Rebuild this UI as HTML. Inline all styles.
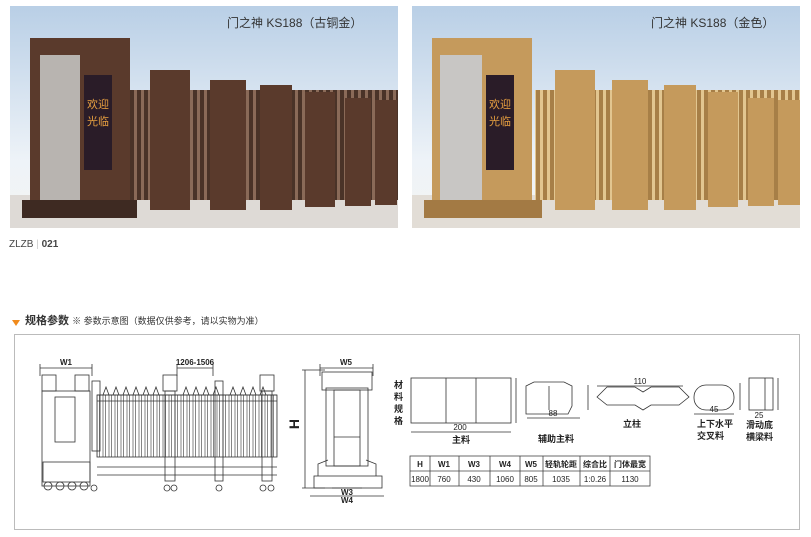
<!DOCTYPE html>
<html><head><meta charset="utf-8"><style>
body{margin:0;width:811px;height:537px;background:#fff;position:relative;overflow:hidden;font-family:"Liberation Sans","Noto Sans CJK SC",sans-serif;}
.a{position:absolute;}
</style></head><body>
<svg class="a" style="left:0;top:0" width="811" height="537" viewBox="0 0 811 537">
<defs>
<linearGradient id="sky" x1="0" y1="0" x2="0" y2="1"><stop offset="0" stop-color="#b9cfe6"/><stop offset="0.7" stop-color="#eef3f8"/><stop offset="1" stop-color="#f4f4f2"/></linearGradient>
<pattern id="bars" width="7" height="10" patternUnits="userSpaceOnUse"><rect width="7" height="10" fill="#4a3328"/><rect x="1" width="3" height="10" fill="#8a6a58"/></pattern>
<pattern id="barsg" width="7" height="10" patternUnits="userSpaceOnUse"><rect width="7" height="10" fill="#a77f47"/><rect x="1" width="3" height="10" fill="#e2c690"/></pattern>
<pattern id="lb" width="6" height="10" patternUnits="userSpaceOnUse"><line x1="1" y1="0" x2="1" y2="10" stroke="#333" stroke-width="0.6"/><line x1="3.5" y1="0" x2="3.5" y2="10" stroke="#333" stroke-width="0.6"/></pattern>
</defs>
<!-- left photo -->
<rect x="10" y="6" width="388" height="222" fill="url(#sky)"/>
<rect x="10" y="195" width="388" height="33" fill="#dedad6"/>
<rect x="130" y="90" width="268" height="110" fill="url(#bars)"/>
<g fill="#5a3a2c">
<rect x="150" y="70" width="40" height="140"/><rect x="210" y="80" width="36" height="130"/><rect x="260" y="85" width="32" height="125"/><rect x="305" y="92" width="30" height="115"/><rect x="345" y="98" width="26" height="108"/><rect x="375" y="100" width="22" height="105"/>
<rect x="30" y="38" width="100" height="180"/>
</g>
<rect x="40" y="55" width="40" height="150" fill="#b8b4b0"/>
<rect x="84" y="75" width="28" height="95" fill="#2a1c28"/>
<text x="87" y="108" font-size="11" fill="#e8a040">欢迎</text><text x="87" y="125" font-size="11" fill="#e8a040">光临</text>
<rect x="22" y="200" width="115" height="18" fill="#3e2a22"/>
<!-- right photo -->
<rect x="412" y="6" width="388" height="222" fill="url(#sky)"/>
<rect x="412" y="195" width="388" height="33" fill="#e2ddd6"/>
<rect x="535" y="90" width="265" height="110" fill="url(#barsg)"/>
<g fill="#c59a5c">
<rect x="555" y="70" width="40" height="140"/><rect x="612" y="80" width="36" height="130"/><rect x="664" y="85" width="32" height="125"/><rect x="708" y="92" width="30" height="115"/><rect x="748" y="98" width="26" height="108"/><rect x="778" y="100" width="22" height="105"/>
<rect x="432" y="38" width="100" height="180"/>
</g>
<rect x="440" y="55" width="42" height="150" fill="#c8c6c4"/>
<rect x="486" y="75" width="28" height="95" fill="#2a1c28"/>
<text x="489" y="108" font-size="11" fill="#e8a040">欢迎</text><text x="489" y="125" font-size="11" fill="#e8a040">光临</text>
<rect x="424" y="200" width="118" height="18" fill="#a37a44"/>
<!-- spec box -->
<rect x="14.5" y="334.5" width="785" height="195" fill="none" stroke="#bbb"/>
<polygon points="12,320 20,320 16,326" fill="#f08a1c"/>
<!-- gate drawing -->
<g stroke="#333" stroke-width="0.8" fill="none">
<line x1="40" y1="368" x2="92" y2="368"/><line x1="40" y1="364" x2="40" y2="376"/><line x1="92" y1="364" x2="92" y2="376"/>
<line x1="177" y1="368" x2="213" y2="368"/><line x1="177" y1="364" x2="177" y2="376"/><line x1="213" y1="364" x2="213" y2="376"/>
<rect x="42" y="375" width="14" height="16"/><rect x="75" y="375" width="14" height="16"/>
<rect x="42" y="391" width="48" height="95"/><rect x="55" y="397" width="20" height="45"/>
<rect x="43" y="462" width="47" height="20"/>
<circle cx="48" cy="486" r="4"/><circle cx="60" cy="486" r="4"/><circle cx="72" cy="486" r="4"/><circle cx="84" cy="486" r="4"/>
<rect x="92" y="381" width="8" height="70"/>
<rect x="97" y="395" width="180" height="62" fill="url(#lb)"/>
<line x1="97" y1="395" x2="277" y2="395"/><line x1="97" y1="401" x2="277" y2="401"/><line x1="97" y1="467" x2="277" y2="467"/><line x1="97" y1="475" x2="277" y2="475"/>
<path d="M103 395 l3-8 3 8 M113 395 l3-8 3 8 M123 395 l3-8 3 8 M133 395 l3-8 3 8 M143 395 l3-8 3 8 M153 395 l3-8 3 8 M183 395 l3-8 3 8 M193 395 l3-8 3 8 M203 395 l3-8 3 8 M213 395 l3-8 3 8 M230 395 l3-8 3 8 M240 395 l3-8 3 8 M250 395 l3-8 3 8 M260 395 l3-8 3 8"/>
<rect x="163" y="375" width="14" height="16"/><rect x="165" y="391" width="10" height="90"/>
<rect x="215" y="381" width="8" height="100"/>
<rect x="260" y="375" width="14" height="16"/><rect x="262" y="391" width="10" height="90"/>
<circle cx="167" cy="488" r="3"/><circle cx="174" cy="488" r="3"/><circle cx="263" cy="488" r="3"/><circle cx="271" cy="488" r="3"/><circle cx="94" cy="488" r="3"/><circle cx="219" cy="488" r="3"/>
<!-- side view -->
<line x1="302" y1="370" x2="325" y2="370"/><line x1="305" y1="370" x2="305" y2="488"/><line x1="302" y1="488" x2="325" y2="488"/>
<line x1="320" y1="368" x2="373" y2="368"/><line x1="320" y1="364" x2="320" y2="376"/><line x1="373" y1="364" x2="373" y2="376"/>
<rect x="322" y="372" width="50" height="18"/>
<rect x="326" y="388" width="42" height="78"/><rect x="334" y="390" width="26" height="76"/>
<line x1="334" y1="437" x2="360" y2="437"/>
<rect x="314" y="476" width="68" height="12"/><path d="M318 476 l0-12 10-4 M376 476 l0-12 -10-4"/>
<line x1="310" y1="496" x2="384" y2="496"/><line x1="332" y1="488" x2="362" y2="488"/>
<!-- profiles -->
<rect x="411" y="378" width="100" height="45"/><line x1="446" y1="378" x2="446" y2="423"/><line x1="476" y1="378" x2="476" y2="423"/>
<line x1="411" y1="432" x2="511" y2="432"/><line x1="516" y1="378" x2="516" y2="423"/>
<path d="M526 386 l8-4 h30 l8 4 v20 l-4 8 h-42 v-28 z"/><line x1="549" y1="386" x2="549" y2="410"/>
<line x1="527" y1="418" x2="580" y2="418"/><line x1="588" y1="385" x2="588" y2="410"/>
<path d="M597 397 l10-10 h28 l8 5 8-5 h28 l10 10 -10 8 h-28 l-8 5 -8-5 h-28 z"/>
<line x1="597" y1="386" x2="683" y2="386"/>
<rect x="694" y="385" width="40" height="25" rx="12"/><line x1="694" y1="414" x2="734" y2="414"/><line x1="740" y1="383" x2="740" y2="410"/>
<rect x="749" y="378" width="24" height="32"/><line x1="765" y1="378" x2="765" y2="410"/><line x1="778" y1="378" x2="778" y2="410"/>
</g>
<g font-size="8" fill="#222" font-family="Liberation Sans,sans-serif" text-anchor="middle">
<text x="66" y="365" font-weight="bold">W1</text><text x="195" y="365" font-weight="bold">1206-1506</text>
<text x="346" y="365" font-weight="bold">W5</text><text x="347" y="495" font-weight="bold">W3</text><text x="347" y="503" font-weight="bold">W4</text>
<text x="295" y="428" font-size="14" font-weight="bold" transform="rotate(-90 295 424)">H</text>
<text x="460" y="430">200</text><text x="553" y="416">88</text><text x="640" y="384">110</text><text x="714" y="412">45</text><text x="759" y="418">25</text>
</g>
<g font-size="9" fill="#222" font-weight="bold">
<text x="394" y="388">材</text><text x="394" y="400">料</text><text x="394" y="412">规</text><text x="394" y="424">格</text>
<text x="452" y="443">主料</text><text x="538" y="442">辅助主料</text><text x="623" y="427">立柱</text>
<text x="697" y="427">上下水平</text><text x="697" y="439">交叉料</text>
<text x="746" y="428">滑动底</text><text x="746" y="440">横梁料</text>
</g>
<g stroke="#444" stroke-width="0.8" fill="none">
<rect x="410" y="456" width="240" height="30"/><line x1="410" y1="471" x2="650" y2="471"/>
<line x1="430" y1="456" x2="430" y2="486"/><line x1="459" y1="456" x2="459" y2="486"/><line x1="490" y1="456" x2="490" y2="486"/><line x1="520" y1="456" x2="520" y2="486"/><line x1="543" y1="456" x2="543" y2="486"/><line x1="580" y1="456" x2="580" y2="486"/><line x1="610" y1="456" x2="610" y2="486"/>
</g>
<g font-size="8" fill="#222" text-anchor="middle" font-weight="bold">
<text x="420" y="467">H</text><text x="444" y="467">W1</text><text x="474" y="467">W3</text><text x="505" y="467">W4</text><text x="531" y="467">W5</text><text x="561" y="467">轻轨轮距</text><text x="595" y="467">综合比</text><text x="630" y="467">门体最宽</text>
<text x="420" y="482" font-weight="normal">1800</text><text x="444" y="482" font-weight="normal">760</text><text x="474" y="482" font-weight="normal">430</text><text x="505" y="482" font-weight="normal">1060</text><text x="531" y="482" font-weight="normal">805</text><text x="561" y="482" font-weight="normal">1035</text><text x="595" y="482" font-weight="normal">1:0.26</text><text x="630" y="482" font-weight="normal">1130</text>
</g>
</svg>
<div class="a" style="left:227px;top:14px;font-size:12px;color:#333">门之神 KS188（古铜金）</div>
<div class="a" style="left:651px;top:14px;font-size:12px;color:#333">门之神 KS188（金色）</div>
<div class="a" style="left:9px;top:239px;font-size:10px;color:#444">ZLZB <span style="color:#ccc">|</span> <b>021</b></div>
<div class="a" style="left:25px;top:312px;font-size:11px;color:#333"><b style="font-size:11px">规格参数</b> <span style="font-size:9px">※ 参数示意图（数据仅供参考，请以实物为准）</span></div>
</body></html>
